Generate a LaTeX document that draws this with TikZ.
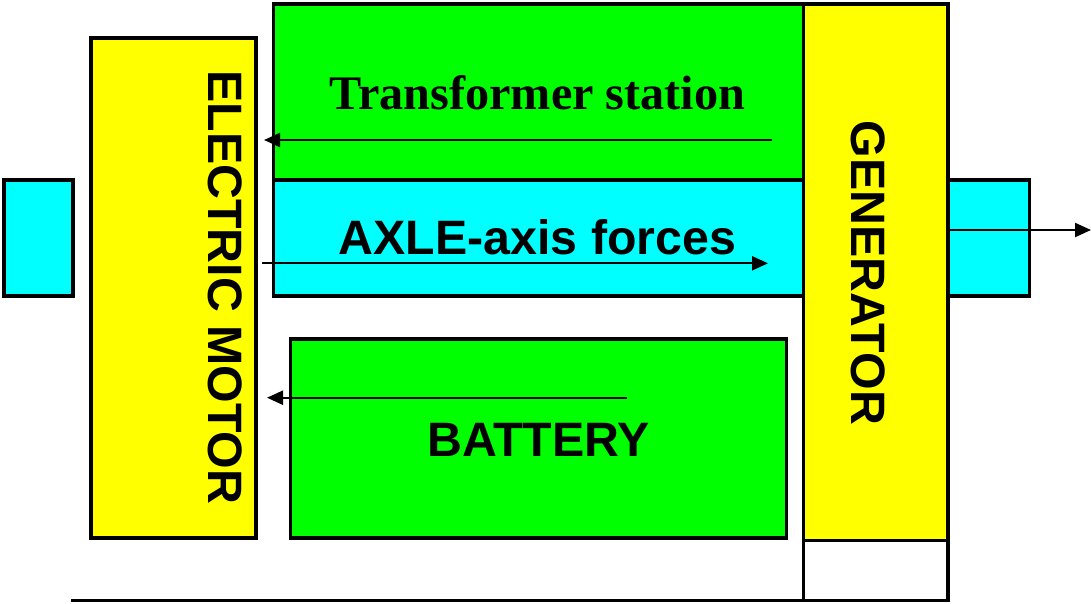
\documentclass[tikz,border=0pt]{standalone}
\usepackage{fontspec}
\setmainfont{Liberation Serif}
\newfontfamily\arialf{Liberation Sans}
\usetikzlibrary{arrows.meta}
\definecolor{ylw}{HTML}{FFFF00}
\definecolor{grn}{HTML}{00FF00}
\definecolor{cyn}{HTML}{00FFFF}
\tikzset{
  blk/.style={draw=black, line width=3.2pt, inner sep=0pt, outer sep=0pt, anchor=north west},
  lbl/.style={inner sep=0pt, font=\arialf\bfseries\fontsize{48.3}{50}\selectfont},
  tlbl/.style={inner sep=0pt, font=\bfseries\fontsize{48.2}{52}\selectfont},
  arr/.style={line width=2.2pt, -{Triangle[length=16pt,width=14pt]}},
}
\begin{document}
\begin{tikzpicture}[x=1pt,y=-1pt]
\useasboundingbox (0,0) rectangle (1091,603);
% boxes
\node[blk, fill=cyn, minimum width=69pt, minimum height=116pt] (lcyan) at (4,180) {};
\node[blk, fill=ylw, minimum width=165pt, minimum height=500pt] (motor) at (91,38) {};
\node[blk, fill=grn, minimum width=530pt, minimum height=176pt] (trans) at (273.5,4) {};
\node[blk, fill=cyn, minimum width=530pt, minimum height=116pt] (axle) at (273.5,180) {};
\node[blk, fill=grn, minimum width=496pt, minimum height=199pt] (batt) at (290.5,339) {};
\node[blk, fill=ylw, minimum width=144.5pt, minimum height=536.5pt] (gen) at (803.5,4) {};
\node[blk, fill=white, minimum width=144.5pt, minimum height=60pt] (base) at (803.5,540.5) {};
\node[blk, fill=cyn, minimum width=81.5pt, minimum height=116pt] (rcyan) at (948,180) {};
% ground line
\coordinate (g1) at (71,600.5);
\coordinate (g2) at (948,600.5);
\draw[line width=3.2pt] (g1) -- (g2);
% labels
\node[tlbl, anchor=base] (ttxt) at (537.5,109.3) {Transformer station};
\node[lbl, anchor=base] (atxt) at (537.5,254) {AXLE-axis forces};
\node[lbl, anchor=base] (btxt) at (538.5,456) {BATTERY};
\node[lbl, rotate=-90] (mtxt) at (225,287.5) {ELECTRIC MOTOR};
\node[lbl, rotate=-90] (gtxt) at (868,273) {GENERATOR};
% arrows
\coordinate (a1s) at (772,140);
\coordinate (a1e) at (264,140);
\coordinate (a2s) at (262,263.3);
\coordinate (a2e) at (768,263.3);
\coordinate (a3s) at (627,397.7);
\coordinate (a3e) at (267,397.7);
\coordinate (a4s) at (948,230);
\coordinate (a4e) at (1091,230);
\draw[arr] (a1s) -- (a1e);
\draw[arr] (a2s) -- (a2e);
\draw[arr] (a3s) -- (a3e);
\draw[arr] (a4s) -- (a4e);
\end{tikzpicture}
\end{document}
